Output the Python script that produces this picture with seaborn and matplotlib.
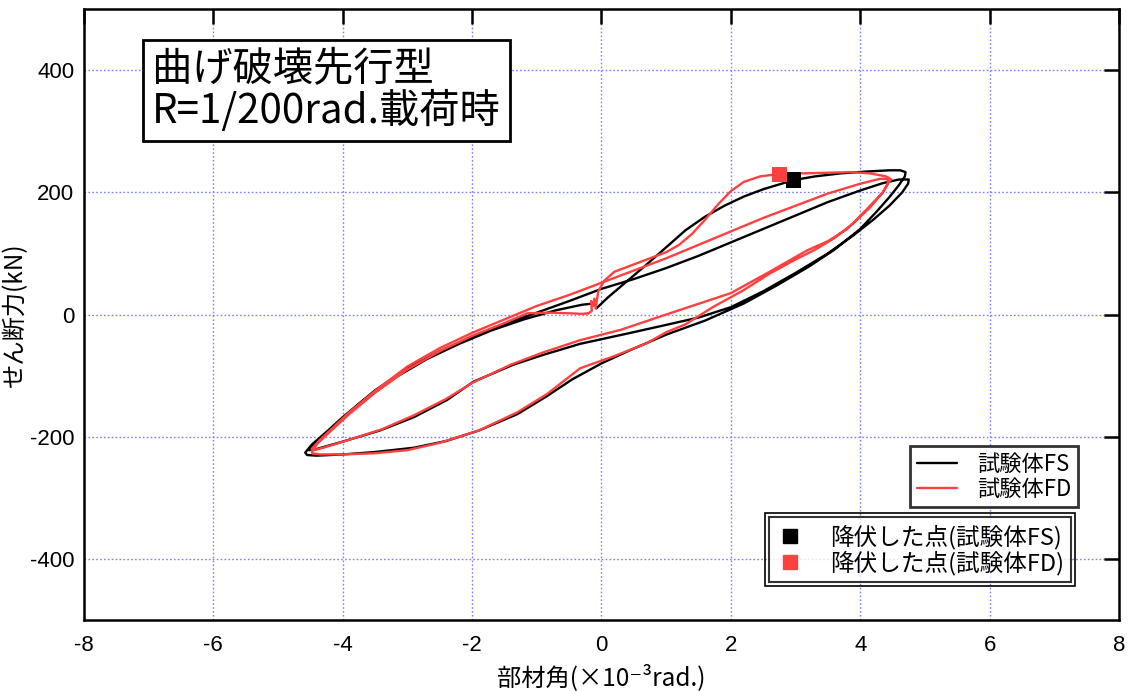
import matplotlib
matplotlib.use("Agg")
import matplotlib.pyplot as plt
from matplotlib.lines import Line2D
from matplotlib.patches import Rectangle
import numpy as np
import pandas as pd
import seaborn as sns

# ---- data: member rotation (x10^-3 rad) vs shear force (kN) ----
fs_angle = [
    -0.08, 0.10, 0.40, 0.70, 1.00, 1.30, 1.60, 1.90, 2.20, 2.50, 2.75, 2.97, 3.30, 3.70, 4.10, 4.45, 4.62, 4.70, 4.69,
    4.60, 4.45, 4.25, 4.00, 3.60, 3.20, 2.70, 2.20, 1.60, 1.00, 0.45, 0.00, -0.45, -0.85, -1.30, -1.90, -2.40, -2.90,
    -3.50, -4.00, -4.40, -4.55,
    -4.58, -4.48, -4.25, -4.00, -3.50, -3.00, -2.50, -2.00, -1.50, -1.00, -0.50, 0.00, 0.50, 1.00, 1.50, 2.00, 2.50,
    3.00, 3.50, 4.00, 4.35, 4.60, 4.75, 4.74,
    4.65, 4.45, 4.20, 3.90, 3.50, 3.00, 2.50, 2.00, 1.50, 1.00, 0.45, -0.33, -0.90, -1.36, -1.98, -2.39, -2.90, -3.43,
    -4.00, -4.40, -4.52,
    -4.50, -4.30, -4.05, -3.70, -3.20, -2.70, -2.20, -1.70, -1.20, -0.70, -0.30, -0.12,
]
fs_shear = [
    10, 28, 55, 82, 110, 138, 160, 178, 193, 205, 213, 220, 226, 231, 234, 236, 236, 233, 226,
    212, 192, 168, 140, 106, 78, 47, 18, -10, -33, -58, -80, -106, -134, -163, -190, -207, -218,
    -225, -229, -231, -230,
    -226, -213, -192, -168, -124, -88, -60, -36, -15, 3, 22, 42, 58, 76, 96, 118, 140,
    162, 184, 203, 215, 221, 221, 214,
    200, 178, 155, 130, 100, 68, 38, 12, -5, -17, -30, -48, -66, -82, -110, -140, -168, -190,
    -208, -220, -222,
    -218, -200, -175, -142, -104, -73, -48, -26, -8, 7, 16, 18,
]
fd_angle = [
    -0.20, -0.15, -0.16, -0.13, -0.11, -0.09, -0.05, 0.05, 0.20, 0.45, 0.70, 1.00, 1.20, 1.40, 1.60, 1.80, 2.00, 2.20,
    2.45, 2.75, 3.10, 3.50, 3.85, 4.15, 4.40, 4.48,
    4.45, 4.35, 4.15, 3.90, 3.60, 3.30, 3.00, 2.60, 2.20, 1.72, 1.30, 1.00, 0.70, 0.20, -0.33, -0.84, -1.30, -1.90,
    -2.50, -3.00, -3.50, -4.00, -4.35, -4.47,
    -4.48, -4.35, -4.15, -3.90, -3.50, -3.00, -2.50, -2.00, -1.50, -1.00, -0.50, 0.00, 0.50, 1.00, 1.50, 2.00, 2.50,
    3.00, 3.50, 4.00, 4.30, 4.42, 4.43,
    4.35, 4.10, 3.80, 3.50, 3.18, 2.60, 2.00, 1.00, 0.30, -0.33, -0.90, -1.40, -2.00, -2.40, -2.90, -3.40, -3.90,
    -4.30, -4.45,
    -4.40, -4.20, -3.90, -3.50, -3.00, -2.50, -2.00, -1.50, -1.15, -0.80, -0.50, -0.30, -0.20,
]
fd_shear = [
    2, 6, 22, 14, 26, 10, 38, 56, 70, 80, 90, 102, 114, 132, 155, 180, 202, 217,
    226, 230, 231, 232, 233, 231, 226, 221,
    218, 200, 175, 150, 125, 106, 90, 67, 40, 12, -16, -29, -47, -68, -88, -130, -160, -190,
    -210, -222, -227, -229, -229, -227,
    -220, -205, -185, -160, -125, -85, -55, -30, -8, 14, 32, 52, 72, 92, 114, 136, 158,
    178, 198, 214, 222, 222, 215,
    200, 172, 140, 120, 105, 70, 35, 0, -25, -42, -62, -82, -112, -138, -165, -188, -205,
    -218, -222,
    -212, -192, -163, -128, -90, -60, -35, -14, 2, 3, 2, 1, 2,
]

specimens = ["試験体FS", "試験体FD"]
yield_labels = ["降伏した点(試験体FS)", "降伏した点(試験体FD)"]
yield_angle = [2.97, 2.75]
yield_shear = [220, 229]

colors = {"試験体FS": "#000000", "試験体FD": "#ff4040"}

curves = pd.concat([
    pd.DataFrame({"angle": fs_angle, "shear": fs_shear, "specimen": specimens[0]}),
    pd.DataFrame({"angle": fd_angle, "shear": fd_shear, "specimen": specimens[1]}),
], ignore_index=True)
points = pd.DataFrame({"angle": yield_angle, "shear": yield_shear, "specimen": specimens})

sns.set_style("white")
jp = ["Noto Sans CJK JP", "DejaVu Sans"]
plt.rcParams["font.family"] = ["Liberation Sans", "Noto Sans CJK JP", "DejaVu Sans"]
plt.rcParams["axes.unicode_minus"] = False
plt.rcParams["text.color"] = "black"
plt.rcParams["axes.labelcolor"] = "black"

fig, ax = plt.subplots(figsize=(11.32, 6.91), dpi=100)
fig.subplots_adjust(left=0.0742, right=0.9885, top=0.987, bottom=0.1027)

sns.lineplot(data=curves, x="angle", y="shear", hue="specimen", palette=colors,
             sort=False, estimator=None, lw=1.7, legend=False, ax=ax, zorder=3)
sns.scatterplot(data=points, x="angle", y="shear", hue="specimen", palette=colors,
                marker="s", s=120, linewidth=0, legend=False, ax=ax, zorder=5)

ax.set_xlim(-8, 8)
ax.set_ylim(-500, 500)
ax.set_xticks(np.arange(-8, 9, 2))
ax.set_yticks([-400, -200, 0, 200, 400])
ax.grid(True, color="#8080ff", linestyle=(0, (1.2, 1.6)), lw=1.0)
ax.tick_params(direction="in", length=11, width=1.8, top=True, right=True,
               labelsize=16, color="black", labelcolor="black")
ax.tick_params(axis="x", pad=11)
ax.tick_params(axis="y", pad=7)
for s in ax.spines.values():
    s.set_linewidth(1.8)
    s.set_color("black")

ax.set_xlabel("部材角(×10⁻³rad.)", fontsize=17.5, family=jp)
ax.xaxis.set_label_coords(0.5, -0.072)
ax.set_ylabel("せん断力(kN)", fontsize=17.5, family=jp)
ax.yaxis.set_label_coords(-0.054, 0.5)

ax.text(0.0657, 0.935, "曲げ破壊先行型\nR=1/200rad.載荷時", transform=ax.transAxes,
        fontsize=29, family=jp, ha="left", va="top", linespacing=1.0,
        bbox=dict(boxstyle="square,pad=0.22", fc="white", ec="black", lw=2), zorder=6)

line_handles = [Line2D([], [], color=colors[s], lw=1.7) for s in specimens]
leg1 = ax.legend(line_handles, specimens, loc="upper right", bbox_to_anchor=(0.960, 0.285),
                 borderaxespad=0, prop={"family": jp, "size": 16}, frameon=True, fancybox=False,
                 handlelength=1.8, handletextpad=0.9, borderpad=0.3, labelspacing=0.1)
leg1.get_frame().set_edgecolor("black")
leg1.get_frame().set_linewidth(2)
ax.add_artist(leg1)

mark_handles = [Line2D([], [], color=colors[s], marker="s", ms=10, ls="none") for s in specimens]
leg2 = ax.legend(mark_handles, yield_labels, loc="lower right", bbox_to_anchor=(0.954, 0.062),
                 borderaxespad=0, prop={"family": jp, "size": 17}, frameon=True, fancybox=False,
                 handlelength=1.2, handletextpad=1.1, borderpad=0.3, labelspacing=0.05)
leg2.get_frame().set_edgecolor("black")
leg2.get_frame().set_linewidth(1.5)

fig.canvas.draw()
bb = leg2.get_frame().get_window_extent()
inv = fig.transFigure.inverted()
(x0, y0), (x1, y1) = inv.transform([(bb.x0 - 4, bb.y0 - 4), (bb.x1 + 4, bb.y1 + 4)])
fig.add_artist(Rectangle((x0, y0), x1 - x0, y1 - y0, transform=fig.transFigure,
                         fill=False, ec="black", lw=1.2, zorder=10))

fig.savefig("out.png", dpi=100)
